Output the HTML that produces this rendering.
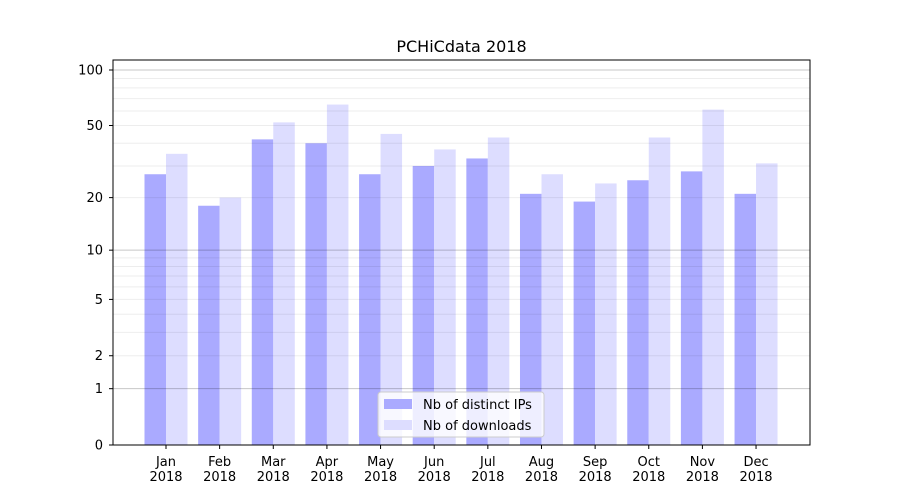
<!DOCTYPE html>
<html><head><meta charset="utf-8">
<style>
body{margin:0;background:#fff;}
svg{display:block;font-family:"DejaVu Sans","Liberation Sans",sans-serif;}
</style></head>
<body>
<svg id="s" width="900" height="500" xmlns="http://www.w3.org/2000/svg">
<rect width="900" height="500" fill="#fff"/>
<g id="bars"></g>
<g id="grid"></g>
<rect x="113" y="60" width="697" height="385" fill="none" stroke="#000" stroke-width="1"/>
<g id="ticks" font-size="13" fill="#000"></g>
<text x="461.5" y="52" text-anchor="middle" font-size="16">PCHiCdata 2018</text>
<g>
<rect x="378" y="392" width="166" height="45" rx="3" fill="#fff" fill-opacity="0.8" stroke="#ccc"/>
<rect x="384" y="399" width="28" height="10" fill="#aaaaff"/>
<rect x="384" y="420" width="28" height="10" fill="#ddddff"/>
<text x="423" y="409" font-size="13">Nb of distinct IPs</text>
<text x="423" y="430" font-size="13">Nb of downloads</text>
</g>
</svg>
<script>
const NS="http://www.w3.org/2000/svg";
function el(p,t,a,txt){const e=document.createElementNS(NS,t);for(const k in a)e.setAttribute(k,a[k]);if(txt!==undefined)e.textContent=txt;document.getElementById(p).appendChild(e);}
const Y=v=>445-187.1*Math.log10(1+v);
const ips=[27,18,42,40,27,30,33,21,19,25,28,21];
const dl=[35,20,52,65,45,37,43,27,24,43,61,31];
const m=["Jan","Feb","Mar","Apr","May","Jun","Jul","Aug","Sep","Oct","Nov","Dec"];
for(let i=0;i<12;i++){
 const c=166+i*53.64;
 el("bars","rect",{x:c-21.5,y:Y(ips[i]),width:21.5,height:445-Y(ips[i]),fill:"#aaaaff"});
 el("bars","rect",{x:c,y:Y(dl[i]),width:21.5,height:445-Y(dl[i]),fill:"#ddddff"});
 el("ticks","line",{x1:c,x2:c,y1:445,y2:449,stroke:"#000"});
 el("ticks","text",{x:c,y:466,"text-anchor":"middle"},m[i]);
 el("ticks","text",{x:c,y:481,"text-anchor":"middle"},"2018");
}
const minor=[2,3,4,5,6,7,8,9,20,30,40,50,60,70,80,90];
minor.forEach(v=>{const y=Y(v);el("grid","line",{x1:113,x2:810,y1:y,y2:y,stroke:"#000","stroke-opacity":0.07,"stroke-width":1});});
[1,10,100].forEach(v=>{const y=Y(v);el("grid","line",{x1:113,x2:810,y1:y,y2:y,stroke:"#000","stroke-opacity":0.22,"stroke-width":1});});
[0,1,2,5,10,20,50,100].forEach(v=>{const y=Y(v);el("ticks","line",{x1:109,x2:113,y1:y,y2:y,stroke:"#000"});el("ticks","text",{x:103,y:y+4.5,"text-anchor":"end"},String(v));});
</script>
</body></html>
